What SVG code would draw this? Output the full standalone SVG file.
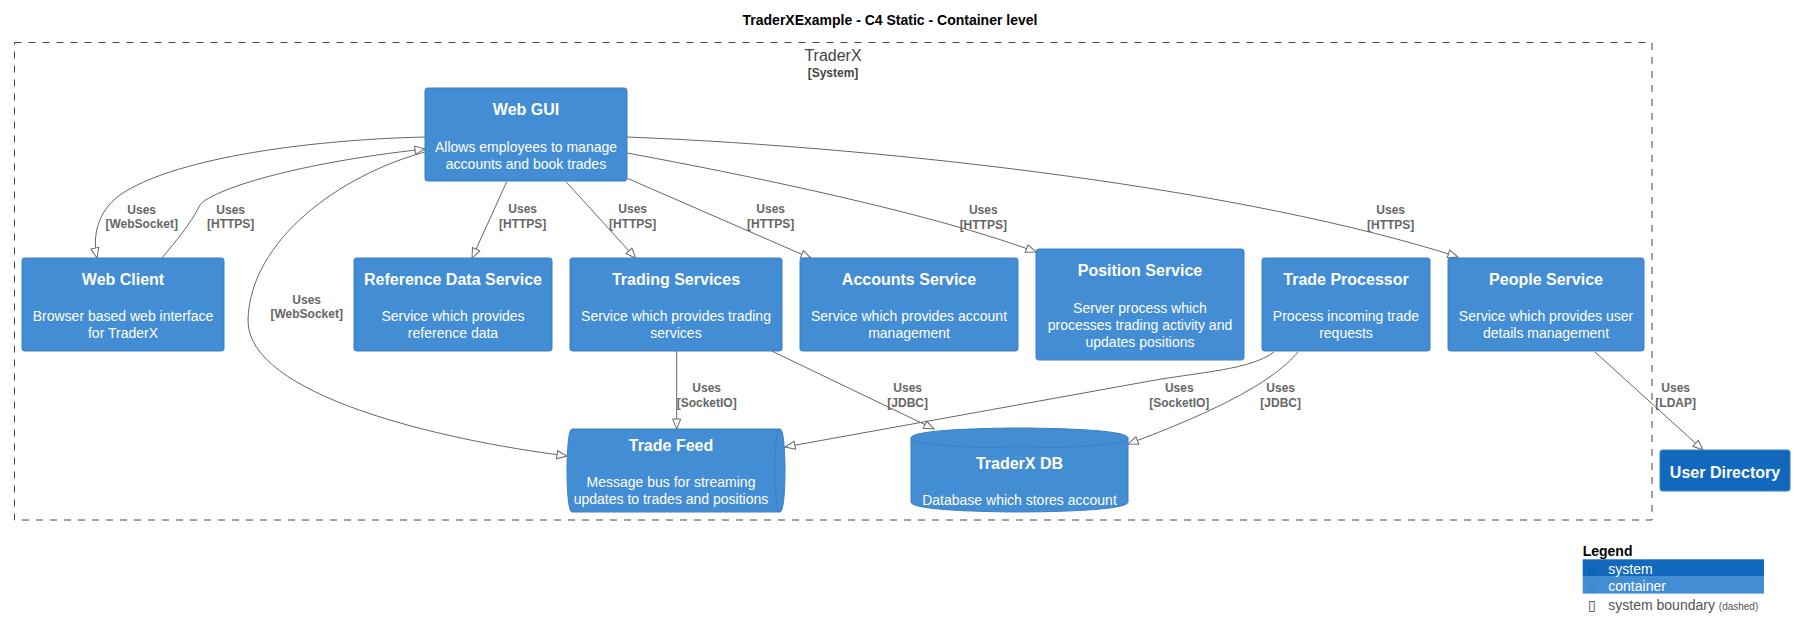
<svg xmlns="http://www.w3.org/2000/svg" width="1795" height="638" viewBox="0 0 1795 638">
<defs>
<style>
text{font-family:"Liberation Sans",Arial,sans-serif;}
.box{fill:#438DD5;stroke:#3C7FC0;stroke-width:1;}
.sys{fill:#1168BD;stroke:#3C7FC0;stroke-width:1;}
.t{font-size:16px;font-weight:bold;fill:#FFFFFF;text-anchor:middle;}
.d{font-size:14px;fill:#FFFFFF;text-anchor:middle;}
.rel{fill:none;stroke:#666666;stroke-width:1;marker-end:url(#arr);}
.lbl{font-size:12px;font-weight:bold;fill:#666666;text-anchor:middle;}
.ic{font-family:"DejaVu Sans",sans-serif;font-size:14px;}
</style>
<marker id="arr" markerUnits="userSpaceOnUse" markerWidth="12" markerHeight="10" viewBox="-1 -1 12 10" refX="10" refY="4" orient="auto">
<path d="M0,0 L10,4 L0,8 Z" fill="#FFFFFF" stroke="#666666" stroke-width="1"/>
</marker>
</defs>
<rect width="1795" height="638" fill="#FFFFFF"/>
<text x="890" y="25" style="font-size:14px;font-weight:bold;fill:#000000;text-anchor:middle;">TraderXExample - C4 Static - Container level</text>

<g id="boundary-traderx">
<rect x="14.5" y="42.5" width="1637.5" height="477.5" fill="none" stroke="#444444" stroke-width="1" stroke-dasharray="7,7"/>
<text x="833" y="61" style="font-size:16px;fill:#444444;text-anchor:middle;">TraderX</text>
<text x="833" y="77" style="font-size:12px;font-weight:bold;fill:#444444;text-anchor:middle;">[System]</text>
</g>

<g id="connectors">
<path class="rel" d="M425,137 C300,140 170,160 120,195 C95,213 93,240 97,258"/>
<text class="lbl" x="141.7" y="213.5">Uses</text><text class="lbl" x="141.7" y="228.2">[WebSocket]</text>
<path class="rel" d="M162,258 C175,242 190,225 200,205 C208,193 280,165 425,149"/>
<text class="lbl" x="230.7" y="213.5">Uses</text><text class="lbl" x="230.7" y="228.2">[HTTPS]</text>
<path class="rel" d="M425,152 C340,175 250,240 248,320 C247,395 440,440 567,456"/>
<text class="lbl" x="306.7" y="303.5">Uses</text><text class="lbl" x="306.7" y="318.2">[WebSocket]</text>
<path class="rel" d="M506.7,181.7 L472,258.3"/>
<text class="lbl" x="522.7" y="213.2">Uses</text><text class="lbl" x="522.7" y="227.8">[HTTPS]</text>
<path class="rel" d="M566,181.7 L635.7,258.3"/>
<text class="lbl" x="632.7" y="213.2">Uses</text><text class="lbl" x="632.7" y="227.8">[HTTPS]</text>
<path class="rel" d="M627.3,178.3 L811,258.3"/>
<text class="lbl" x="770.7" y="213.2">Uses</text><text class="lbl" x="770.7" y="227.8">[HTTPS]</text>
<path class="rel" d="M627,153 C800,185 950,220 1036,252"/>
<text class="lbl" x="983.3" y="213.5">Uses</text><text class="lbl" x="983.3" y="228.5">[HTTPS]</text>
<path class="rel" d="M627,137 C900,148 1250,190 1458,257"/>
<text class="lbl" x="1390.7" y="213.5">Uses</text><text class="lbl" x="1390.7" y="228.5">[HTTPS]</text>
<path class="rel" d="M676.7,351 L676.7,429"/>
<text class="lbl" x="706.7" y="392.2">Uses</text><text class="lbl" x="706.7" y="407.2">[SocketIO]</text>
<path class="rel" d="M771.7,351 L934,429"/>
<text class="lbl" x="907.7" y="392.2">Uses</text><text class="lbl" x="907.7" y="407.2">[JDBC]</text>
<path class="rel" d="M1274,352 C1250,370 1200,372 1150,381 L785,447"/>
<text class="lbl" x="1179.3" y="392.2">Uses</text><text class="lbl" x="1179.3" y="407.2">[SocketIO]</text>
<path class="rel" d="M1298,352 C1275,380 1220,410 1128,444"/>
<text class="lbl" x="1280.7" y="392.2">Uses</text><text class="lbl" x="1280.7" y="407.2">[JDBC]</text>
<path class="rel" d="M1595,352 L1703,450"/>
<text class="lbl" x="1675.7" y="392.2">Uses</text><text class="lbl" x="1675.7" y="407.2">[LDAP]</text>
</g>

<g id="web-gui">
<rect class="box" x="425" y="88" width="202" height="93" rx="2.5"/>
<text class="t" x="526" y="115">Web GUI</text>
<text class="d" x="526" y="152">Allows employees to manage</text>
<text class="d" x="526" y="168.5">accounts and book trades</text>
</g>
<g id="web-client">
<rect class="box" x="22" y="258" width="202" height="93" rx="2.5"/>
<text class="t" x="123" y="285">Web Client</text>
<text class="d" x="123" y="321">Browser based web interface</text>
<text class="d" x="123" y="338">for TraderX</text>
</g>
<g id="reference-data-service">
<rect class="box" x="354" y="258" width="198" height="93" rx="2.5"/>
<text class="t" x="453" y="285">Reference Data Service</text>
<text class="d" x="453" y="321">Service which provides</text>
<text class="d" x="453" y="338">reference data</text>
</g>
<g id="trading-services">
<rect class="box" x="570" y="258" width="212" height="93" rx="2.5"/>
<text class="t" x="676" y="285">Trading Services</text>
<text class="d" x="676" y="321">Service which provides trading</text>
<text class="d" x="676" y="338">services</text>
</g>
<g id="accounts-service">
<rect class="box" x="800" y="258" width="218" height="93" rx="2.5"/>
<text class="t" x="909" y="285">Accounts Service</text>
<text class="d" x="909" y="321">Service which provides account</text>
<text class="d" x="909" y="338">management</text>
</g>
<g id="position-service">
<rect class="box" x="1036" y="249" width="208" height="111" rx="2.5"/>
<text class="t" x="1140" y="276">Position Service</text>
<text class="d" x="1140" y="312.5">Server process which</text>
<text class="d" x="1140" y="329.5">processes trading activity and</text>
<text class="d" x="1140" y="347">updates positions</text>
</g>
<g id="trade-processor">
<rect class="box" x="1262" y="258" width="168" height="93" rx="2.5"/>
<text class="t" x="1346" y="285">Trade Processor</text>
<text class="d" x="1346" y="321">Process incoming trade</text>
<text class="d" x="1346" y="338">requests</text>
</g>
<g id="people-service">
<rect class="box" x="1448" y="258" width="196" height="93" rx="2.5"/>
<text class="t" x="1546" y="285">People Service</text>
<text class="d" x="1546" y="321">Service which provides user</text>
<text class="d" x="1546" y="338">details management</text>
</g>
<g id="trade-feed">
<path class="box" d="M572,429 L780,429 C785,429 785,470.5 785,470.5 C785,470.5 785,512 780,512 L572,512 C567,512 567,470.5 567,470.5 C567,470.5 567,429 572,429 Z"/>
<path d="M780,429 C775,429 775,470.5 775,470.5 C775,470.5 775,512 780,512" fill="none" stroke="#3C7FC0" stroke-width="1"/>
<text class="t" x="671" y="451">Trade Feed</text>
<text class="d" x="671" y="486.5">Message bus for streaming</text>
<text class="d" x="671" y="504">updates to trades and positions</text>
</g>
<g id="traderx-db">
<path class="box" d="M911,438 C911,428 1019.5,428 1019.5,428 C1019.5,428 1128,428 1128,438 L1128,502 C1128,512 1019.5,512 1019.5,512 C1019.5,512 911,512 911,502 Z"/>
<path d="M911,438 C911,448 1019.5,448 1019.5,448 C1019.5,448 1128,448 1128,438" fill="none" stroke="#3C7FC0" stroke-width="1"/>
<text class="t" x="1019.5" y="469">TraderX DB</text>
<text class="d" x="1019.5" y="505">Database which stores account</text>
</g>
<g id="user-directory">
<rect class="sys" x="1660" y="450" width="130" height="41" rx="2.5"/>
<text class="t" x="1725" y="477.5">User Directory</text>
</g>

<g id="legend">
<text x="1582.7" y="556" style="font-size:14px;font-weight:bold;fill:#000000;">Legend</text>
<rect x="1582.7" y="559.3" width="181.3" height="16.7" fill="#1168BD"/>
<rect x="1582.7" y="576" width="181.3" height="17.3" fill="#438DD5"/>
<line x1="1582.7" y1="593.5" x2="1764" y2="593.5" stroke="#8DB8E6" stroke-width="1"/>
<text class="ic" x="1588" y="574" style="fill:#0E5AA6;">▯</text>
<text x="1608.3" y="573.5" style="font-size:14px;fill:#FFFFFF;">system</text>
<text class="ic" x="1588" y="591" style="fill:#3B80C8;">▯</text>
<text x="1608.3" y="590.5" style="font-size:14px;fill:#FFFFFF;">container</text>
<text class="ic" x="1588" y="610" style="fill:#444444;">▯</text>
<text x="1608.3" y="609.5" style="font-size:14px;fill:#555555;">system boundary <tspan style="font-size:10px;">(dashed)</tspan></text>
</g>
</svg>
